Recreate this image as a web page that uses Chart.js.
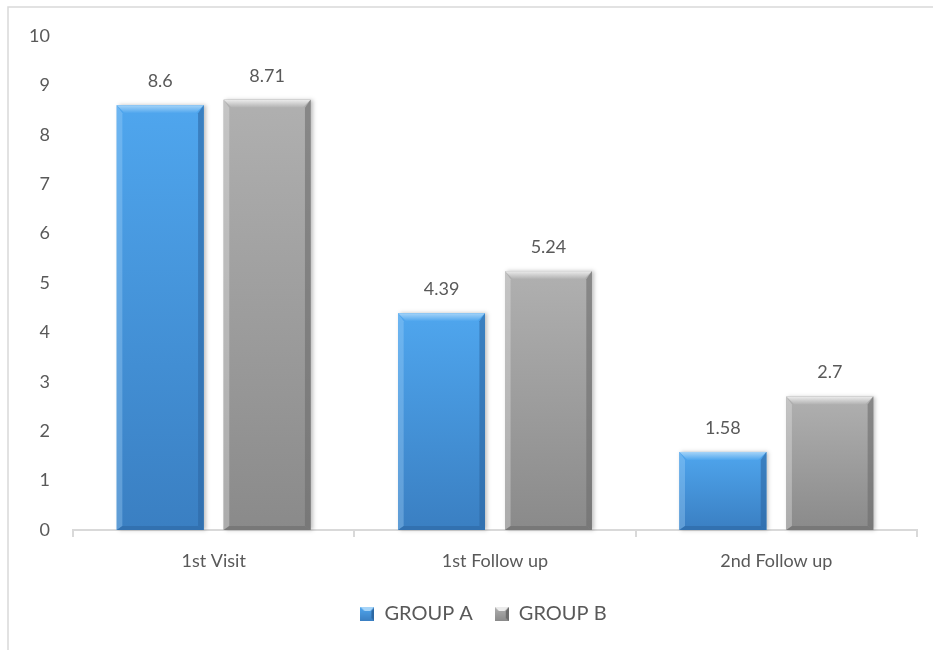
<!DOCTYPE html>
<html>
<head>
<meta charset="utf-8">
<script src="https://cdn.jsdelivr.net/npm/chart.js@4.4.1/dist/chart.umd.min.js"></script>
<style>
  html, body { margin: 0; padding: 0; background: #fff; }
  #wrap { position: relative; width: 933px; height: 650px; }
</style>
</head>
<body>
<div id="wrap"><canvas id="myChart" width="933" height="650"></canvas></div>
<script>
// 値
const categories = ['1st Visit', '1st Follow up', '2nd Follow up'];
const groupA = [8.6, 4.39, 1.58];
const groupB = [8.71, 5.24, 2.7];
const yTicks = [0, 1, 2, 3, 4, 5, 6, 7, 8, 9, 10];

const FONT = 'Lato, "Open Sans", sans-serif';
const TEXT = '#595959';
const LINE = '#d9d9d9';

// 色（上・下・ハイライト・影）
const PALETTE = [
  { top: '#4fa6ee', bottom: '#3a7fc2', light: '#a6d4f8', dark: '#2d68a3' },
  { top: '#b0b0b0', bottom: '#8a8a8a', light: '#ececec', dark: '#6c6c6c' },
];

// 凡例用の小さなアイコン
function legendIcon(p) {
  const c = document.createElement('canvas');
  c.width = 14; c.height = 14;
  const g = c.getContext('2d');
  const grd = g.createLinearGradient(0, 0, 0, 14);
  grd.addColorStop(0, p.top);
  grd.addColorStop(1, p.bottom);
  g.fillStyle = grd;
  g.fillRect(0, 0, 14, 14);
  g.fillStyle = p.light;
  g.beginPath(); g.moveTo(0, 0); g.lineTo(14, 0); g.lineTo(10, 4); g.lineTo(4, 4); g.closePath(); g.fill();
  g.fillStyle = p.dark;
  g.beginPath(); g.moveTo(14, 0); g.lineTo(14, 14); g.lineTo(11, 11); g.lineTo(11, 4); g.closePath(); g.fill();
  return c;
}

// 外枠 + 凡例の位置調整
const framePlugin = {
  id: 'frame',
  afterLayout(chart) {
    chart.legend.left += 21;
    chart.legend.right += 21;
  },
  beforeDraw(chart) {
    const { ctx } = chart;
    ctx.save();
    ctx.strokeStyle = LINE;
    ctx.lineWidth = 1.5;
    ctx.beginPath();
    ctx.moveTo(8, 650);
    ctx.lineTo(8, 7);
    ctx.lineTo(933, 7);
    ctx.stroke();
    ctx.restore();
  },
};

// 面取り風の棒と値ラベル
const bevelPlugin = {
  id: 'bevel',
  afterDatasetsDraw(chart) {
    const { ctx } = chart;
    chart.data.datasets.forEach((ds, di) => {
      const p = PALETTE[di];
      chart.getDatasetMeta(di).data.forEach((bar, i) => {
        const x0 = bar.x - bar.width / 2;
        const x1 = bar.x + bar.width / 2;
        const y0 = bar.y;
        const y1 = bar.base;
        const b = Math.min(8, (y1 - y0) / 2);
        ctx.save();
        ctx.shadowColor = 'rgba(0,0,0,0.25)';
        ctx.shadowBlur = 4;
        ctx.shadowOffsetX = 2;
        const grd = ctx.createLinearGradient(0, y0, 0, y1);
        grd.addColorStop(0, p.top);
        grd.addColorStop(1, p.bottom);
        ctx.fillStyle = grd;
        ctx.fillRect(x0, y0, x1 - x0, y1 - y0);
        ctx.restore();

        ctx.save();
        const poly = (pts, fill) => {
          ctx.fillStyle = fill;
          ctx.beginPath();
          ctx.moveTo(pts[0][0], pts[0][1]);
          pts.slice(1).forEach(pt => ctx.lineTo(pt[0], pt[1]));
          ctx.closePath();
          ctx.fill();
        };
        const tg = ctx.createLinearGradient(0, y0, 0, y0 + b);
        tg.addColorStop(0, p.light);
        tg.addColorStop(1, p.top);
        poly([[x0, y0], [x1, y0], [x1 - b, y0 + b], [x0 + b, y0 + b]], tg);
        ctx.globalAlpha = 0.35;
        poly([[x0, y0], [x0 + b * 0.7, y0 + b], [x0 + b * 0.7, y1 - b * 0.5], [x0, y1]], p.light);
        ctx.globalAlpha = 0.6;
        poly([[x1, y0], [x1, y1], [x1 - b * 0.7, y1 - b * 0.5], [x1 - b * 0.7, y0 + b]], p.dark);
        poly([[x0, y1], [x1, y1], [x1 - b * 0.7, y1 - b * 0.5], [x0 + b * 0.7, y1 - b * 0.5]], p.dark);
        ctx.restore();

        // 値ラベル
        ctx.save();
        ctx.fillStyle = TEXT;
        ctx.font = '18px ' + FONT;
        ctx.textAlign = 'center';
        ctx.textBaseline = 'middle';
        ctx.fillText(String(ds.data[i]), bar.x, y0 - 24);
        ctx.restore();
      });
    });
  },
};

const ctx = document.getElementById('myChart').getContext('2d');

new Chart(ctx, {
  type: 'bar',
  data: {
    labels: categories,
    datasets: [
      { label: 'GROUP A', data: groupA, backgroundColor: PALETTE[0].top, pointStyle: legendIcon(PALETTE[0]) },
      { label: 'GROUP B', data: groupB, backgroundColor: PALETTE[1].top, pointStyle: legendIcon(PALETTE[1]) },
    ],
  },
  options: {
    responsive: false,
    animation: false,
    categoryPercentage: 0.76,
    barPercentage: 0.813,
    layout: { padding: { left: 8, right: 16, top: 36, bottom: 16 } },
    plugins: {
      legend: {
        position: 'bottom',
        labels: {
          usePointStyle: true,
          boxWidth: 14,
          boxHeight: 14,
          color: TEXT,
          font: { family: FONT, size: 20 },
          padding: 22,
        },
      },
      tooltip: { enabled: false },
    },
    scales: {
      x: {
        grid: { display: true, drawOnChartArea: false, color: LINE, lineWidth: 2, tickLength: 7, offset: true },
        border: { color: LINE, width: 2 },
        ticks: { color: TEXT, font: { family: FONT, size: 18 }, padding: 13 },
        afterFit(scale) { scale.height = 52; },
      },
      y: {
        min: 0,
        max: 10,
        afterBuildTicks(scale) { scale.ticks = yTicks.map(v => ({ value: v })); },
        grid: { display: false, drawTicks: false },
        border: { display: false },
        ticks: { color: TEXT, font: { family: FONT, size: 18 }, padding: 23 },
        afterFit(scale) { scale.width = 65; },
      },
    },
  },
  plugins: [framePlugin, bevelPlugin],
});
</script>
</body>
</html>
